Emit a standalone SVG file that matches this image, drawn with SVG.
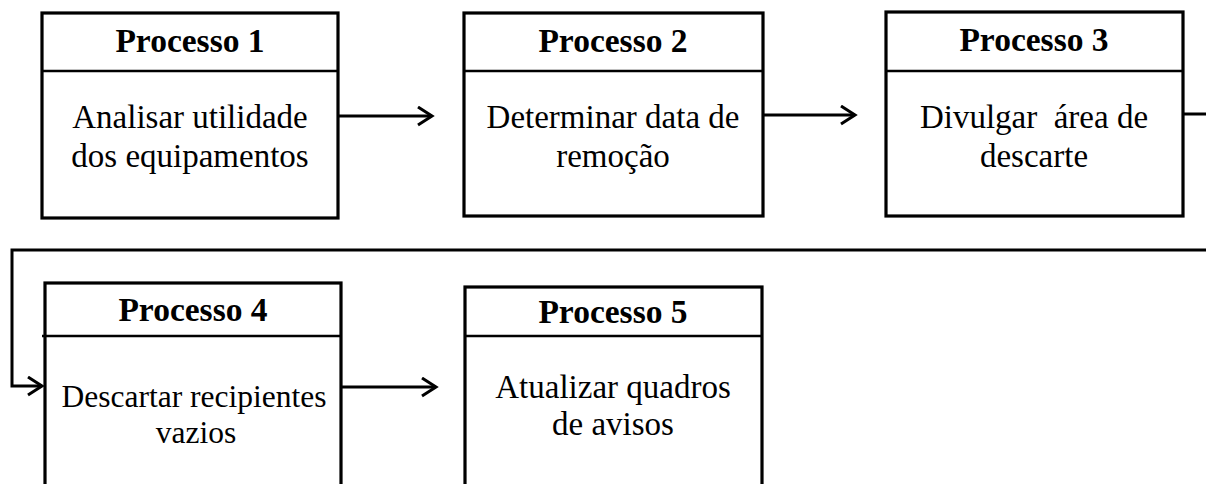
<svg xmlns="http://www.w3.org/2000/svg" width="1206" height="484" viewBox="0 0 1206 484">
  <style>
    .box { fill: #ffffff; stroke: #000000; stroke-width: 3.2; }
    .sep { stroke: #000000; stroke-width: 2.5; }
    .title { font-family: "Liberation Serif", "Times New Roman", serif; font-weight: bold; font-size: 33.5px; fill: #000000; text-anchor: middle; }
    .body { font-family: "Liberation Serif", "Times New Roman", serif; font-size: 33px; fill: #000000; text-anchor: middle; white-space: pre; }
    .narrow { font-size: 31.5px; }
    .link { fill: none; stroke: #000000; stroke-width: 3; }
  </style>
  <defs>
    <marker id="arrow" markerWidth="18" markerHeight="22" refX="15" refY="10" orient="auto" markerUnits="userSpaceOnUse">
      <path d="M1,1 L15,10 L1,19" fill="none" stroke="#000000" stroke-width="3" stroke-linejoin="miter"/>
    </marker>
  </defs>

  <rect width="1206" height="484" fill="#ffffff"/>

  <g id="connectors">
    <path class="link" d="M338,116 H432" marker-end="url(#arrow)"/>
    <path class="link" d="M763,115 H855" marker-end="url(#arrow)"/>
    <path class="link" d="M1183,114 H1206"/>
    <path class="link" d="M1206,250 H12 V386 H42" marker-end="url(#arrow)"/>
    <path class="link" d="M342,387 H436" marker-end="url(#arrow)"/>
  </g>

  <g id="processo1">
    <rect class="box" x="42" y="13" width="296" height="205"/>
    <line class="sep" x1="42" y1="71" x2="338" y2="71"/>
    <text class="title" x="190" y="52">Processo 1</text>
    <text class="body" x="190" y="128">Analisar utilidade</text>
    <text class="body" x="190" y="167">dos equipamentos</text>
  </g>

  <g id="processo2">
    <rect class="box" x="464" y="13" width="299" height="203"/>
    <line class="sep" x1="464" y1="71" x2="763" y2="71"/>
    <text class="title" x="613" y="52">Processo 2</text>
    <text class="body" x="613" y="128">Determinar data de</text>
    <text class="body" x="613" y="167">remoção</text>
  </g>

  <g id="processo3">
    <rect class="box" x="886" y="12" width="297" height="204"/>
    <line class="sep" x1="886" y1="71" x2="1183" y2="71"/>
    <text class="title" x="1034" y="51">Processo 3</text>
    <text class="body" x="1034" y="128">Divulgar  área de</text>
    <text class="body" x="1034" y="167">descarte</text>
  </g>

  <g id="processo4">
    <rect class="box" x="45" y="283" width="296" height="215"/>
    <line class="sep" x1="42" y1="336" x2="341" y2="336"/>
    <text class="title" x="193" y="321">Processo 4</text>
    <text class="body narrow" x="194" y="407">Descartar recipientes</text>
    <text class="body narrow" x="196" y="443">vazios</text>
  </g>

  <g id="processo5">
    <rect class="box" x="465" y="287" width="297" height="211"/>
    <line class="sep" x1="465" y1="336" x2="762" y2="336"/>
    <text class="title" x="613" y="323">Processo 5</text>
    <text class="body" x="613" y="398">Atualizar quadros</text>
    <text class="body" x="613" y="435">de avisos</text>
  </g>
</svg>
